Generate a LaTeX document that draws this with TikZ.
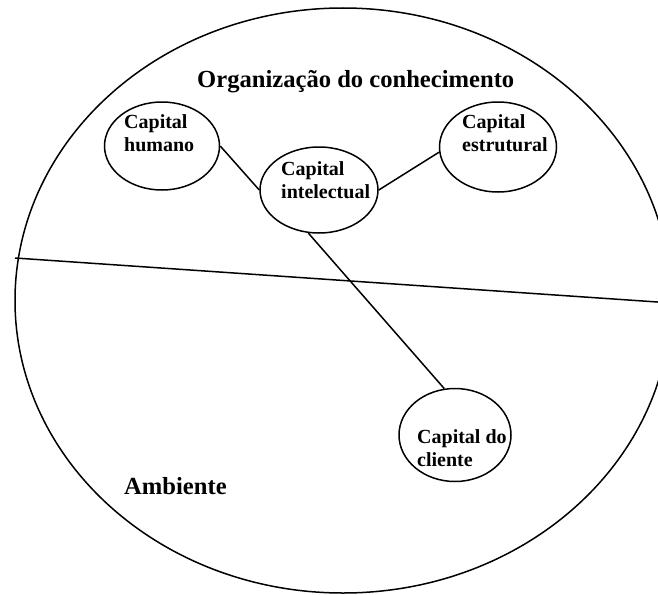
\documentclass[tikz,border=0pt]{standalone}
\usepackage{fontspec}
\setmainfont{Liberation Serif}
\usetikzlibrary{shapes.geometric}
\begin{document}
\begin{tikzpicture}[x=1pt,y=-1pt,
  ln/.style={line width=1.5pt,black},
  capell/.style={ln,draw,ellipse,inner sep=0pt,minimum width=#1},
  captxt/.style={inner sep=0pt,anchor=base west,align=left,font=\fontsize{20}{23}\selectfont\bfseries},
  bigtxt/.style={inner sep=0pt,anchor=base west,font=\fontsize{24.6}{28}\selectfont\bfseries}]
\useasboundingbox (0,0) rectangle (658,594);
\clip (0,0) rectangle (658,594);
\fill[white] (0,0) rectangle (658,594);
% big ellipse
\node[ln,draw,ellipse,inner sep=0pt,minimum width=656pt,minimum height=585pt] (amb) at (343,300.5) {};
% dividing line
\coordinate (dl) at (15,258);
\coordinate (dr) at (672,303);
\draw[ln] (dl) -- (dr);
% titles
\node[bigtxt] (org) at (197,87) {Organização do conhecimento};
\node[bigtxt] (ambt) at (124,494) {Ambiente};
% capital ellipses
\node[capell=115pt,minimum height=88pt] (hum) at (162,146) {};
\node[capell=118pt,minimum height=86pt] (int) at (319,190) {};
\node[capell=117pt,minimum height=90pt] (est) at (498,147) {};
\node[capell=112pt,minimum height=93pt] (cli) at (455,435) {};
% labels (base anchor = baseline of last line)
\node[captxt] (humt) at (124,151) {Capital\\humano};
\node[captxt] (intt) at (281,198) {Capital\\intelectual};
\node[captxt] (estt) at (462,151) {Capital\\estrutural};
\node[captxt] (clit) at (417,466) {Capital do\\cliente};
% connectors
\draw[ln] (hum.east) -- (int.west);
\draw[ln] (int.east) -- (est.185);
\draw[ln] (int.256) -- (cli.103);
\end{tikzpicture}
\end{document}
